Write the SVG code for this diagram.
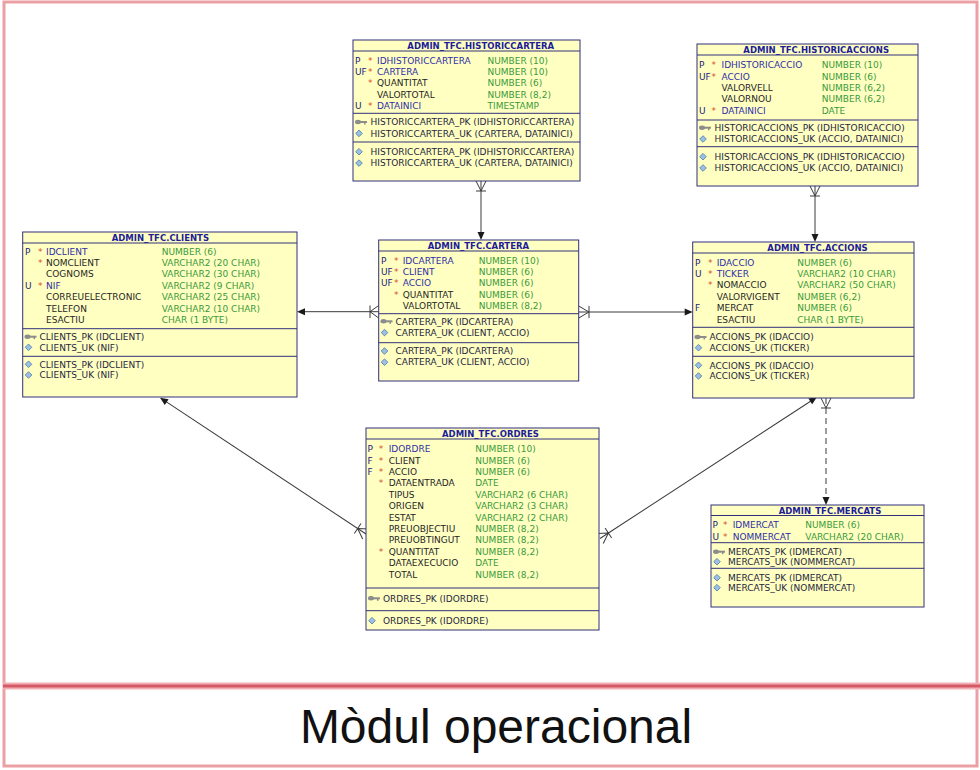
<svg xmlns="http://www.w3.org/2000/svg" xmlns:xlink="http://www.w3.org/1999/xlink" width="980" height="770" viewBox="0 0 980 770">
<style>
.t{font-family:"DejaVu Sans",sans-serif;font-size:9px}
.h{font-family:"DejaVu Sans",sans-serif;font-size:8.5px;font-weight:bold;fill:#1c1c9a}
.k{fill:#23237e}
.s{fill:#d2502c}
.b{fill:#2e2ea6}
.n{fill:#262626}
.y{fill:#3a9a3a}
.i{fill:#262640}
.box{fill:#ffffc2;stroke:#30307c;stroke-width:1}
.ln{stroke:#30307c;stroke-width:1}
.c{stroke:#3a3a3a;stroke-width:1;fill:none}
.d{stroke-dasharray:6 4}
.ah{fill:#1a1a1a}
</style>
<defs>
<g id="key"><ellipse cx="3" cy="0" rx="3" ry="2.2" fill="#8c8c8c"/><rect x="5" y="-1" width="7" height="2" fill="#8c8c8c"/><rect x="9" y="0" width="1.5" height="2.5" fill="#8c8c8c"/></g>
<polygon id="dia" points="0,-3.3 3.3,0 0,3.3 -3.3,0" fill="#9cc0e4" stroke="#4a78a8" stroke-width="0.8"/>
</defs>
<rect width="980" height="770" fill="#ffffff"/>
<g id="frame">
<rect x="4" y="2" width="973" height="764" fill="none" stroke="#eba0a6" stroke-width="3"/>
<line x1="3" y1="686" x2="980" y2="686" stroke="#f0b0b5" stroke-width="7"/>
<line x1="3" y1="686" x2="980" y2="686" stroke="#d65a66" stroke-width="3"/>
<text x="496" y="743" font-family="Liberation Sans, Arial, sans-serif" font-size="48" text-anchor="middle" fill="#111">Mòdul operacional</text>
</g>
<g id="connectors">
<line class="c" x1="481" y1="181" x2="481" y2="235"/>
<path class="c" d="M476,181 L481,191 L486,181 M476,191 H486"/>
<polygon class="ah" points="481,240 477.5,232 484.5,232"/>
<line class="c" x1="815" y1="186" x2="815" y2="237"/>
<path class="c" d="M810,186 L815,196 L820,186 M810,196 H820"/>
<polygon class="ah" points="815,242 811.5,234 818.5,234"/>
<line class="c" x1="302" y1="311.7" x2="378.7" y2="311.7"/>
<path class="c" d="M378.7,305.5 L370,311.7 L378.7,318 M370,305.5 V318"/>
<polygon class="ah" points="297,311.7 305,308.2 305,315.2"/>
<line class="c" x1="578.7" y1="312" x2="688" y2="312"/>
<path class="c" d="M578.7,306 L589,312 L578.7,318 M589,306 V318"/>
<polygon class="ah" points="692.7,312 684.7,308.5 684.7,315.5"/>
<g transform="translate(366,534) rotate(213.5)">
<line class="c" x1="0" y1="0" x2="243" y2="0"/>
<path class="c" d="M0,-6 L10,0 L0,6 M10,-6 V6"/>
<polygon class="ah" points="247,0 239,-3.5 239,3.5"/>
</g>
<g transform="translate(600,538.5) rotate(-33.1)">
<line class="c" x1="0" y1="0" x2="255" y2="0"/>
<path class="c" d="M0,-6 L10,0 L0,6 M10,-6 V6"/>
<polygon class="ah" points="259,0 251,-3.5 251,3.5"/>
</g>
<line class="c d" x1="826" y1="398" x2="826" y2="499"/>
<path class="c" d="M821,398 L826,408 L831,398 M821,408 H831"/>
<polygon class="ah" points="826,505 822.5,497 829.5,497"/>
</g>
<g id="historiccartera">
<rect class="box" x="353" y="40" width="227" height="141"/>
<line class="ln" x1="353" y1="51" x2="580" y2="51"/>
<line class="ln" x1="353" y1="113.3" x2="580" y2="113.3"/>
<line class="ln" x1="353" y1="142" x2="580" y2="142"/>
<text class="h" x="407.3" y="49">ADMIN_TFC.HISTORICCARTERA</text>
<g class="t">
<text class="k" x="355" y="63.5">P</text><text class="s" x="368" y="63.5">*</text><text class="b" x="377" y="63.5">IDHISTORICCARTERA</text><text class="y" x="487.5" y="63.5">NUMBER (10)</text>
<text class="k" x="355" y="74.9">UF</text><text class="s" x="368" y="74.9">*</text><text class="b" x="377" y="74.9">CARTERA</text><text class="y" x="487.5" y="74.9">NUMBER (10)</text>
<text class="s" x="368" y="86.3">*</text><text class="n" x="377" y="86.3">QUANTITAT</text><text class="y" x="487.5" y="86.3">NUMBER (6)</text>
<text class="n" x="377" y="97.7">VALORTOTAL</text><text class="y" x="487.5" y="97.7">NUMBER (8,2)</text>
<text class="k" x="355" y="109.1">U</text><text class="s" x="368" y="109.1">*</text><text class="b" x="377" y="109.1">DATAINICI</text><text class="y" x="487.5" y="109.1">TIMESTAMP</text>
<use xlink:href="#key" x="355" y="122"/><text class="i" x="370.5" y="125.2">HISTORICCARTERA_PK (IDHISTORICCARTERA)</text>
<use xlink:href="#dia" x="359" y="133.4"/><text class="i" x="370.5" y="136.6">HISTORICCARTERA_UK (CARTERA, DATAINICI)</text>
<use xlink:href="#dia" x="359" y="151.7"/><text class="i" x="370.5" y="154.9">HISTORICCARTERA_PK (IDHISTORICCARTERA)</text>
<use xlink:href="#dia" x="359" y="163.1"/><text class="i" x="370.5" y="166.3">HISTORICCARTERA_UK (CARTERA, DATAINICI)</text>
</g>
</g>
<g id="historicaccions">
<rect class="box" x="697" y="44" width="221" height="142"/>
<line class="ln" x1="697" y1="55" x2="918" y2="55"/>
<line class="ln" x1="697" y1="120" x2="918" y2="120"/>
<line class="ln" x1="697" y1="146.7" x2="918" y2="146.7"/>
<text class="h" x="743.3" y="53.2">ADMIN_TFC.HISTORICACCIONS</text>
<g class="t">
<text class="k" x="699" y="68.2">P</text><text class="s" x="711.5" y="68.2">*</text><text class="b" x="721.5" y="68.2">IDHISTORICACCIO</text><text class="y" x="821.7" y="68.2">NUMBER (10)</text>
<text class="k" x="699" y="79.6">UF</text><text class="s" x="711.5" y="79.6">*</text><text class="b" x="721.5" y="79.6">ACCIO</text><text class="y" x="821.7" y="79.6">NUMBER (6)</text>
<text class="n" x="721.5" y="91">VALORVELL</text><text class="y" x="821.7" y="91">NUMBER (6,2)</text>
<text class="n" x="721.5" y="102.4">VALORNOU</text><text class="y" x="821.7" y="102.4">NUMBER (6,2)</text>
<text class="k" x="699" y="113.8">U</text><text class="s" x="711.5" y="113.8">*</text><text class="b" x="721.5" y="113.8">DATAINICI</text><text class="y" x="821.7" y="113.8">DATE</text>
<use xlink:href="#key" x="699" y="127.7"/><text class="i" x="714.5" y="130.9">HISTORICACCIONS_PK (IDHISTORICACCIO)</text>
<use xlink:href="#dia" x="703" y="139"/><text class="i" x="714.5" y="142.2">HISTORICACCIONS_UK (ACCIO, DATAINICI)</text>
<use xlink:href="#dia" x="703" y="156.7"/><text class="i" x="714.5" y="159.9">HISTORICACCIONS_PK (IDHISTORICACCIO)</text>
<use xlink:href="#dia" x="703" y="168"/><text class="i" x="714.5" y="171.2">HISTORICACCIONS_UK (ACCIO, DATAINICI)</text>
</g>
</g>
<g id="clients">
<rect class="box" x="22.7" y="232" width="274.3" height="165"/>
<line class="ln" x1="22.7" y1="243" x2="297" y2="243"/>
<line class="ln" x1="22.7" y1="328.7" x2="297" y2="328.7"/>
<line class="ln" x1="22.7" y1="356.3" x2="297" y2="356.3"/>
<text class="h" x="111.7" y="241">ADMIN_TFC.CLIENTS</text>
<g class="t">
<text class="k" x="25" y="254.5">P</text><text class="s" x="38" y="254.5">*</text><text class="b" x="46" y="254.5">IDCLIENT</text><text class="y" x="161.7" y="254.5">NUMBER (6)</text>
<text class="s" x="38" y="265.9">*</text><text class="n" x="46" y="265.9">NOMCLIENT</text><text class="y" x="161.7" y="265.9">VARCHAR2 (20 CHAR)</text>
<text class="n" x="46" y="277.3">COGNOMS</text><text class="y" x="161.7" y="277.3">VARCHAR2 (30 CHAR)</text>
<text class="k" x="25" y="288.7">U</text><text class="s" x="38" y="288.7">*</text><text class="b" x="46" y="288.7">NIF</text><text class="y" x="161.7" y="288.7">VARCHAR2 (9 CHAR)</text>
<text class="n" x="46" y="300.1">CORREUELECTRONIC</text><text class="y" x="161.7" y="300.1">VARCHAR2 (25 CHAR)</text>
<text class="n" x="46" y="311.5">TELEFON</text><text class="y" x="161.7" y="311.5">VARCHAR2 (10 CHAR)</text>
<text class="n" x="46" y="322.9">ESACTIU</text><text class="y" x="161.7" y="322.9">CHAR (1 BYTE)</text>
<use xlink:href="#key" x="24.5" y="336.7"/><text class="i" x="39.5" y="339.9">CLIENTS_PK (IDCLIENT)</text>
<use xlink:href="#dia" x="28.5" y="347.3"/><text class="i" x="39.5" y="350.5">CLIENTS_UK (NIF)</text>
<use xlink:href="#dia" x="28.5" y="364.3"/><text class="i" x="39.5" y="367.5">CLIENTS_PK (IDCLIENT)</text>
<use xlink:href="#dia" x="28.5" y="375"/><text class="i" x="39.5" y="378.2">CLIENTS_UK (NIF)</text>
</g>
</g>
<g id="cartera">
<rect class="box" x="378.7" y="240" width="200" height="141"/>
<line class="ln" x1="378.7" y1="251" x2="578.7" y2="251"/>
<line class="ln" x1="378.7" y1="313.7" x2="578.7" y2="313.7"/>
<line class="ln" x1="378.7" y1="342.7" x2="578.7" y2="342.7"/>
<text class="h" x="427.7" y="249">ADMIN_TFC.CARTERA</text>
<g class="t">
<text class="k" x="381" y="263.5">P</text><text class="s" x="394" y="263.5">*</text><text class="b" x="402.7" y="263.5">IDCARTERA</text><text class="y" x="478.7" y="263.5">NUMBER (10)</text>
<text class="k" x="381" y="274.9">UF</text><text class="s" x="394" y="274.9">*</text><text class="b" x="402.7" y="274.9">CLIENT</text><text class="y" x="478.7" y="274.9">NUMBER (6)</text>
<text class="k" x="381" y="286.3">UF</text><text class="s" x="394" y="286.3">*</text><text class="b" x="402.7" y="286.3">ACCIO</text><text class="y" x="478.7" y="286.3">NUMBER (6)</text>
<text class="s" x="394" y="297.7">*</text><text class="n" x="402.7" y="297.7">QUANTITAT</text><text class="y" x="478.7" y="297.7">NUMBER (6)</text>
<text class="n" x="402.7" y="309.1">VALORTOTAL</text><text class="y" x="478.7" y="309.1">NUMBER (8,2)</text>
<use xlink:href="#key" x="380.5" y="321.3"/><text class="i" x="395.5" y="324.5">CARTERA_PK (IDCARTERA)</text>
<use xlink:href="#dia" x="384.5" y="332.6"/><text class="i" x="395.5" y="335.8">CARTERA_UK (CLIENT, ACCIO)</text>
<use xlink:href="#dia" x="384.5" y="351"/><text class="i" x="395.5" y="354.2">CARTERA_PK (IDCARTERA)</text>
<use xlink:href="#dia" x="384.5" y="362.2"/><text class="i" x="395.5" y="365.4">CARTERA_UK (CLIENT, ACCIO)</text>
</g>
</g>
<g id="accions">
<rect class="box" x="692.7" y="242" width="221.3" height="156"/>
<line class="ln" x1="692.7" y1="253" x2="914" y2="253"/>
<line class="ln" x1="692.7" y1="327.3" x2="914" y2="327.3"/>
<line class="ln" x1="692.7" y1="356.3" x2="914" y2="356.3"/>
<text class="h" x="767.3" y="251">ADMIN_TFC.ACCIONS</text>
<g class="t">
<text class="k" x="695" y="265.5">P</text><text class="s" x="708" y="265.5">*</text><text class="b" x="716.7" y="265.5">IDACCIO</text><text class="y" x="797.3" y="265.5">NUMBER (6)</text>
<text class="k" x="695" y="276.9">U</text><text class="s" x="708" y="276.9">*</text><text class="b" x="716.7" y="276.9">TICKER</text><text class="y" x="797.3" y="276.9">VARCHAR2 (10 CHAR)</text>
<text class="s" x="708" y="288.3">*</text><text class="n" x="716.7" y="288.3">NOMACCIO</text><text class="y" x="797.3" y="288.3">VARCHAR2 (50 CHAR)</text>
<text class="n" x="716.7" y="299.7">VALORVIGENT</text><text class="y" x="797.3" y="299.7">NUMBER (6,2)</text>
<text class="k" x="695" y="311.1">F</text><text class="n" x="716.7" y="311.1">MERCAT</text><text class="y" x="797.3" y="311.1">NUMBER (6)</text>
<text class="n" x="716.7" y="322.5">ESACTIU</text><text class="y" x="797.3" y="322.5">CHAR (1 BYTE)</text>
<use xlink:href="#key" x="694.5" y="337"/><text class="i" x="709.5" y="340.2">ACCIONS_PK (IDACCIO)</text>
<use xlink:href="#dia" x="698.5" y="347.7"/><text class="i" x="709.5" y="350.9">ACCIONS_UK (TICKER)</text>
<use xlink:href="#dia" x="698.5" y="365.3"/><text class="i" x="709.5" y="368.5">ACCIONS_PK (IDACCIO)</text>
<use xlink:href="#dia" x="698.5" y="376"/><text class="i" x="709.5" y="379.2">ACCIONS_UK (TICKER)</text>
</g>
</g>
<g id="ordres">
<rect class="box" x="366" y="428" width="233" height="202"/>
<line class="ln" x1="366" y1="439" x2="599" y2="439"/>
<line class="ln" x1="366" y1="588" x2="599" y2="588"/>
<line class="ln" x1="366" y1="610.7" x2="599" y2="610.7"/>
<text class="h" x="442" y="437">ADMIN_TFC.ORDRES</text>
<g class="t">
<text class="k" x="367.5" y="452.2">P</text><text class="s" x="378.7" y="452.2">*</text><text class="b" x="388.7" y="452.2">IDORDRE</text><text class="y" x="475.3" y="452.2">NUMBER (10)</text>
<text class="k" x="367.5" y="463.6">F</text><text class="s" x="378.7" y="463.6">*</text><text class="n" x="388.7" y="463.6">CLIENT</text><text class="y" x="475.3" y="463.6">NUMBER (6)</text>
<text class="k" x="367.5" y="475">F</text><text class="s" x="378.7" y="475">*</text><text class="n" x="388.7" y="475">ACCIO</text><text class="y" x="475.3" y="475">NUMBER (6)</text>
<text class="s" x="378.7" y="486.4">*</text><text class="n" x="388.7" y="486.4">DATAENTRADA</text><text class="y" x="475.3" y="486.4">DATE</text>
<text class="n" x="388.7" y="497.8">TIPUS</text><text class="y" x="475.3" y="497.8">VARCHAR2 (6 CHAR)</text>
<text class="n" x="388.7" y="509.2">ORIGEN</text><text class="y" x="475.3" y="509.2">VARCHAR2 (3 CHAR)</text>
<text class="n" x="388.7" y="520.6">ESTAT</text><text class="y" x="475.3" y="520.6">VARCHAR2 (2 CHAR)</text>
<text class="n" x="388.7" y="532">PREUOBJECTIU</text><text class="y" x="475.3" y="532">NUMBER (8,2)</text>
<text class="n" x="388.7" y="543.4">PREUOBTINGUT</text><text class="y" x="475.3" y="543.4">NUMBER (8,2)</text>
<text class="s" x="378.7" y="554.8">*</text><text class="n" x="388.7" y="554.8">QUANTITAT</text><text class="y" x="475.3" y="554.8">NUMBER (8,2)</text>
<text class="n" x="388.7" y="566.2">DATAEXECUCIO</text><text class="y" x="475.3" y="566.2">DATE</text>
<text class="n" x="388.7" y="577.6">TOTAL</text><text class="y" x="475.3" y="577.6">NUMBER (8,2)</text>
<use xlink:href="#key" x="368" y="598.3"/><text class="i" x="383" y="601.5">ORDRES_PK (IDORDRE)</text>
<use xlink:href="#dia" x="372" y="620.7"/><text class="i" x="383" y="623.9">ORDRES_PK (IDORDRE)</text>
</g>
</g>
<g id="mercats">
<rect class="box" x="711" y="505" width="213" height="102"/>
<line class="ln" x1="711" y1="515.5" x2="924" y2="515.5"/>
<line class="ln" x1="711" y1="542.7" x2="924" y2="542.7"/>
<line class="ln" x1="711" y1="568.3" x2="924" y2="568.3"/>
<text class="h" x="778.7" y="513.5">ADMIN_TFC.MERCATS</text>
<g class="t">
<text class="k" x="712.5" y="528.2">P</text><text class="s" x="723" y="528.2">*</text><text class="b" x="732.7" y="528.2">IDMERCAT</text><text class="y" x="805.3" y="528.2">NUMBER (6)</text>
<text class="k" x="712.5" y="539.6">U</text><text class="s" x="723" y="539.6">*</text><text class="b" x="732.7" y="539.6">NOMMERCAT</text><text class="y" x="805.3" y="539.6">VARCHAR2 (20 CHAR)</text>
<use xlink:href="#key" x="713" y="551.7"/><text class="i" x="728" y="554.9">MERCATS_PK (IDMERCAT)</text>
<use xlink:href="#dia" x="717" y="561.7"/><text class="i" x="728" y="564.9">MERCATS_UK (NOMMERCAT)</text>
<use xlink:href="#dia" x="717" y="577.7"/><text class="i" x="728" y="580.9">MERCATS_PK (IDMERCAT)</text>
<use xlink:href="#dia" x="717" y="587.7"/><text class="i" x="728" y="590.9">MERCATS_UK (NOMMERCAT)</text>
</g>
</g>
</svg>
